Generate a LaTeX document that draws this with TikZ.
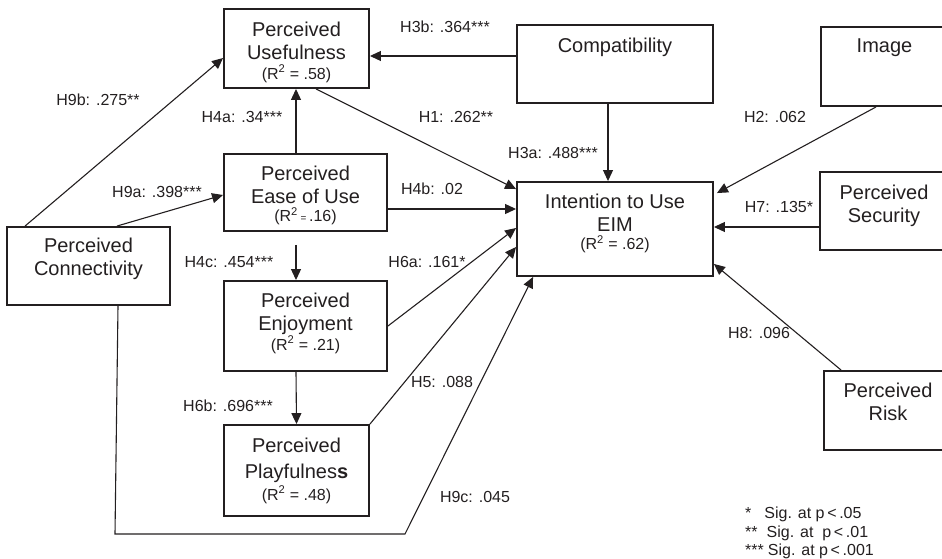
\documentclass[tikz,border=0pt]{standalone}
\usepackage{fontspec}
\setmainfont{Liberation Sans}
\usetikzlibrary{arrows.meta,calc}
\definecolor{ink}{HTML}{231F20}
\newcommand{\rsq}[1]{{\fontsize{16}{16}\selectfont (R\textsuperscript{2} = #1)}}
\newcommand{\rsqs}[1]{{\fontsize{16}{16}\selectfont (R\textsuperscript{2}\,{\fontsize{10}{10}\selectfont =}\,#1)}}
\begin{document}
\begin{tikzpicture}[x=1pt,y=-1pt,
  box/.style={draw=ink,line width=1.9pt,inner sep=0pt,rectangle},
  txt/.style={text=ink,align=center,inner sep=0pt,font=\fontsize{20}{23}\selectfont},
  lab/.style={text=ink,inner sep=0pt,font=\fontsize{16}{18}\selectfont},
  arr/.style={draw=ink,line width=1.1pt,-{Triangle[length=11pt,width=10pt]}},
  ln/.style={draw=ink,line width=1.1pt}]
\useasboundingbox (0,0) rectangle (942,559);
\clip (0,0) rectangle (942,559);
% boxes
\node[box,minimum width=145,minimum height=79] (pu) at (296.5,48.5) {};
\node[box,minimum width=163,minimum height=77] (peou) at (305.5,192.5) {};
\node[box,minimum width=163,minimum height=78] (pc) at (88.5,266) {};
\node[box,minimum width=163,minimum height=90] (pe) at (305.5,326) {};
\node[box,minimum width=145,minimum height=91] (pp) at (296.5,470.5) {};
\node[box,minimum width=196,minimum height=78] (comp) at (615,64) {};
\node[box,minimum width=150,minimum height=79] (img) at (896,66.5) {};
\node[box,minimum width=196,minimum height=94] (iu) at (615,229) {};
\node[box,minimum width=150,minimum height=78] (ps) at (895,211) {};
\node[box,minimum width=150,minimum height=79] (pr) at (899,410.5) {};
% box texts
\node[txt] (put) at (296.5,52) {Perceived\\Usefulness\\[-3pt]\rsq{.58}};
\node[txt] (peout) at (305.5,195.5) {Perceived\\Ease of Use\\[-5pt]\rsqs{.16}};
\node[txt] (pct) at (88.5,259) {Perceived\\Connectivity};
\node[txt] (pet) at (305.5,323) {Perceived\\Enjoyment\\[-3pt]\rsq{.21}};
\node[txt] (ppt) at (296.5,470.5) {Perceived\\[3pt]Playfulnes{\bfseries s}\\[-1pt]\rsq{.48}};
\node[txt] (compt) at (615,47) {Compatibility};
\node[txt] (imgt) at (884.5,48) {Image};
\node[txt] (iut) at (615,223.5) {Intention to Use\\EIM\\[-5pt]\rsq{.62}};
\node[txt] (pst) at (884,206) {Perceived\\Security};
\node[txt] (prt) at (888,402) {Perceived\\Risk};
% path helpers
\coordinate (c1) at (115,534);
\coordinate (c2) at (405,534);
% connectors
\draw[arr] ([yshift=8pt]comp.west) -- ([yshift=-7.5pt]pu.east);
\draw[arr] ([xshift=-9.5pt]peou.north) -- ([xshift=-9.5pt]peou.north |- pu.south);
\draw[arr] ([xshift=19pt]pc.north west) -- ([yshift=-9.5pt]pu.west);
\draw[arr] ([xshift=28.5pt]pc.north) -- ([yshift=-2.5pt]peou.west);
\draw[arr] ([xshift=19.5pt]pu.south) -- ([yshift=-8pt]iu.north west);
\draw[arr] ([yshift=-16.5pt]peou.east) -- ([yshift=20pt]iu.west);
\draw[arr] ([xshift=-9.5pt,yshift=-13pt]peou.south) -- ([xshift=-9.5pt]pe.north);
\draw[arr] ([xshift=-9.5pt]pe.south) -- (pp.north);
\draw[arr] (pe.east) -- ([yshift=1pt]iu.west);
\draw[arr] (pp.north east) -- ([yshift=-18pt]iu.west);
\draw[arr] ([xshift=29.5pt]pc.south) -- (c1) -- (c2) -- ([xshift=17pt]iu.south west);
\draw[arr] ([xshift=-7pt]comp.south) -- ([xshift=-7pt]iu.north);
\draw[arr] ([xshift=56pt]img.south west) -- ([xshift=3pt,yshift=-12pt]iu.north east);
\draw[arr] ([yshift=-16pt]ps.west) -- ([yshift=2pt]iu.east);
\draw[arr] ([xshift=18pt]pr.north west) -- ([yshift=13pt]iu.south east);
% labels
\node[lab] (l3b) at (445,27) {H3b: .364***};
\node[lab] (l9b) at (98,100) {H9b: .275**};
\node[lab] (l4a) at (242,117) {H4a: .34***};
\node[lab] (l1) at (456,117) {H1: .262**};
\node[lab] (l3a) at (553,153) {H3a: .488***};
\node[lab] (l2) at (775,117) {H2: .062};
\node[lab] (l9a) at (157,192) {H9a: .398***};
\node[lab] (l4b) at (432,189) {H4b: .02};
\node[lab] (l7) at (779,207) {H7: .135*};
\node[lab] (l4c) at (229,262) {H4c: .454***};
\node[lab] (l6a) at (427,262) {H6a: .161*};
\node[lab] (l5) at (442,382) {H5: .088};
\node[lab] (l6b) at (228,406) {H6b: .696***};
\node[lab] (l8) at (759,333) {H8: .096};
\node[lab] (l9c) at (475,497) {H9c: .045};
% legend
\node[lab,anchor=base west] (leg1) at (745,518) {*\hspace{13pt}Sig. at p\,<\,.05};
\node[lab,anchor=base west] (leg2) at (745,537) {**\hspace{9pt}Sig. at \ p\,<\,.01};
\node[lab,anchor=base west] (leg3) at (745,555) {***\hspace{4pt}Sig. at p\,<\,.001};
\end{tikzpicture}
\end{document}
